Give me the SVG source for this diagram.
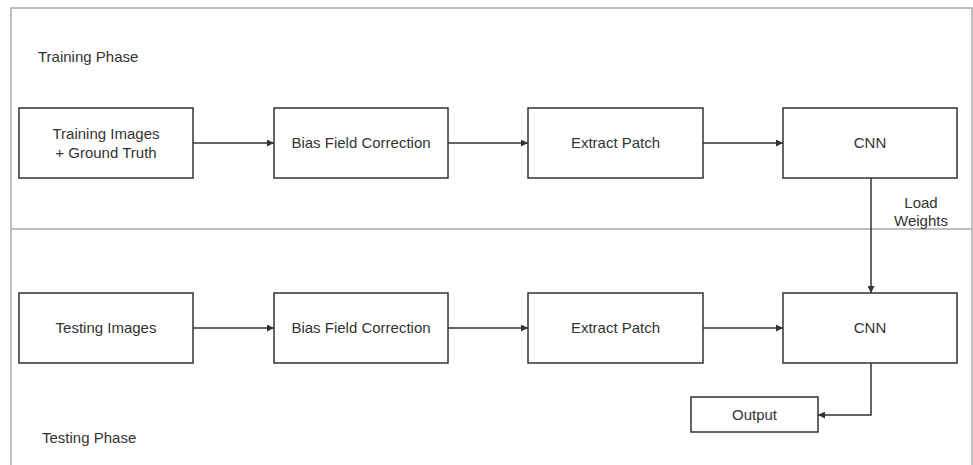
<svg xmlns="http://www.w3.org/2000/svg" width="973" height="465" viewBox="0 0 973 465">
<style>
.frame{fill:none;stroke:#aaaaaa;stroke-width:1.5}
.box{fill:#ffffff;stroke:#333333;stroke-width:1.5}
.t{font-family:"Liberation Sans",Arial,sans-serif;font-size:15px;fill:#333333;text-anchor:middle;dominant-baseline:central}
.lbl{font-family:"Liberation Sans",Arial,sans-serif;font-size:15px;fill:#333333;dominant-baseline:central}
.c{fill:none;stroke:#333333;stroke-width:1.5}
</style>
<defs>
<marker id="arr" viewBox="0 0 10 10" refX="10" refY="5" markerWidth="9" markerHeight="7" markerUnits="userSpaceOnUse" orient="auto">
<path d="M0,0 L10,5 L0,10 Z" fill="#333333"/>
</marker>
</defs>
<rect width="973" height="465" fill="#ffffff"/>
<g id="frame">
<path class="frame" d="M11,466 L11,8 L972,8 L972,466"/>
<line class="frame" x1="11" y1="229" x2="972" y2="229"/>
</g>
<text class="lbl" x="38" y="56">Training Phase</text>
<text class="lbl" x="42" y="437">Testing Phase</text>
<g id="train-images"><rect class="box" x="19" y="108" width="174" height="70"/><text class="t" x="106" y="133">Training Images</text><text class="t" x="106" y="152">+ Ground Truth</text></g>
<g id="train-bias"><rect class="box" x="274" y="108" width="174" height="70"/><text class="t" x="361" y="142">Bias Field Correction</text></g>
<g id="train-patch"><rect class="box" x="528" y="108" width="175" height="70"/><text class="t" x="615.5" y="142">Extract Patch</text></g>
<g id="train-cnn"><rect class="box" x="783" y="108" width="174" height="70"/><text class="t" x="870" y="142">CNN</text></g>
<g id="test-images"><rect class="box" x="19" y="293" width="174" height="70"/><text class="t" x="106" y="327">Testing Images</text></g>
<g id="test-bias"><rect class="box" x="274" y="293" width="174" height="70"/><text class="t" x="361" y="327">Bias Field Correction</text></g>
<g id="test-patch"><rect class="box" x="528" y="293" width="175" height="70"/><text class="t" x="615.5" y="327">Extract Patch</text></g>
<g id="test-cnn"><rect class="box" x="783" y="293" width="174" height="70"/><text class="t" x="870" y="327">CNN</text></g>
<g id="output"><rect class="box" x="691" y="397" width="127" height="35"/><text class="t" x="754.5" y="414.5">Output</text></g>
<g id="connectors">
<line class="c" x1="193" y1="143" x2="274" y2="143" marker-end="url(#arr)"/>
<line class="c" x1="448" y1="143" x2="528" y2="143" marker-end="url(#arr)"/>
<line class="c" x1="703" y1="143" x2="783" y2="143" marker-end="url(#arr)"/>
<line class="c" x1="193" y1="328" x2="274" y2="328" marker-end="url(#arr)"/>
<line class="c" x1="448" y1="328" x2="528" y2="328" marker-end="url(#arr)"/>
<line class="c" x1="703" y1="328" x2="783" y2="328" marker-end="url(#arr)"/>
<line class="c" x1="871" y1="178" x2="871" y2="293" marker-end="url(#arr)"/>
<polyline class="c" points="871,363 871,415 818,415" marker-end="url(#arr)"/>
<text class="t" x="921" y="202">Load</text>
<text class="t" x="921" y="220">Weights</text>
</g>
</svg>
